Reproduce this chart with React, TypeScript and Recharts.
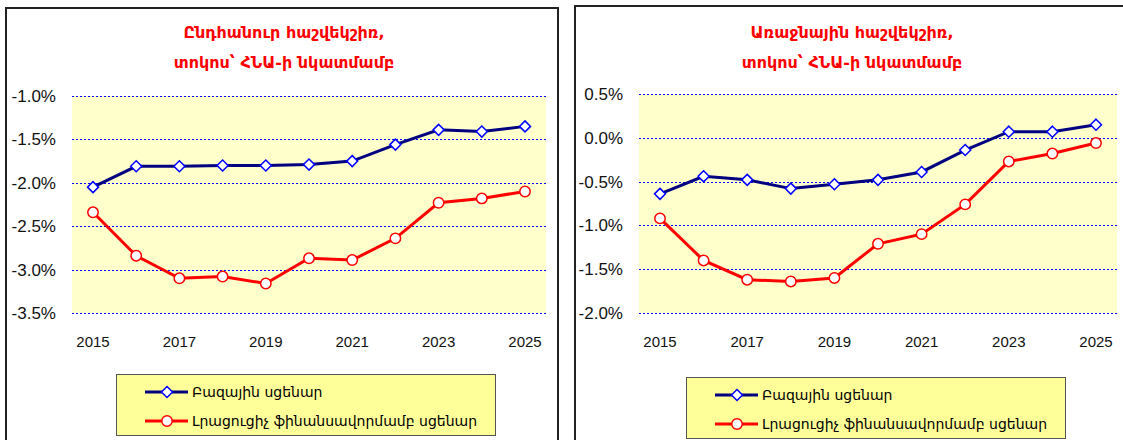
import { LineChart, Line, XAxis, YAxis, CartesianGrid, Legend } from "recharts";

const years = ["2015", "2016", "2017", "2018", "2019", "2020", "2021", "2022", "2023", "2024", "2025"];

// overall balance, % of GDP
const overallBase = [-2.05, -1.81, -1.81, -1.8, -1.8, -1.79, -1.75, -1.56, -1.39, -1.41, -1.35];
const overallExtra = [-2.34, -2.84, -3.1, -3.08, -3.16, -2.87, -2.89, -2.64, -2.23, -2.18, -2.1];
const overallTicks = [-1.0, -1.5, -2.0, -2.5, -3.0, -3.5];

// primary balance, % of GDP
const primaryBase = [-0.64, -0.44, -0.48, -0.58, -0.53, -0.48, -0.39, -0.14, 0.07, 0.07, 0.15];
const primaryExtra = [-0.92, -1.4, -1.62, -1.64, -1.6, -1.21, -1.1, -0.76, -0.27, -0.18, -0.06];
const primaryTicks = [0.5, 0.0, -0.5, -1.0, -1.5, -2.0];

const seriesNames = ["Բազային սցենար", "Լրացուցիչ ֆինանսավորմամբ սցենար"];
const overallTitle = ["Ընդհանուր հաշվեկշիռ,", "տոկոս՝ ՀՆԱ-ի նկատմամբ"];
const primaryTitle = ["Առաջնային հաշվեկշիռ,", "տոկոս՝ ՀՆԱ-ի նկատմամբ"];

const toRows = (base: number[], extra: number[]) =>
  years.map((year, i) => ({ year, base: base[i], extra: extra[i] }));

const Diamond = (props: any) => {
  const { cx, cy, index } = props;
  if (cx == null || cy == null) return null;
  const r = 5.5;
  return (
    <path
      key={`dm-${index}`}
      d={`M${cx},${cy - r}L${cx + r},${cy}L${cx},${cy + r}L${cx - r},${cy}Z`}
      fill="#fff"
      stroke="#0000ff"
      strokeWidth={1.5}
    />
  );
};

const Ring = (props: any) => {
  const { cx, cy, index } = props;
  if (cx == null || cy == null) return null;
  return <circle key={`rg-${index}`} cx={cx} cy={cy} r={5.2} fill="#fff" stroke="#ff0000" strokeWidth={1.5} />;
};

// crisp 1px dotted blue gridline
const GridLine = (p: any) => (
  <line
    key={`h-${p.index}`}
    x1={p.x1}
    x2={p.x2}
    y1={Math.round(p.y1) + 0.5}
    y2={Math.round(p.y2) + 0.5}
    stroke="#0000ff"
    strokeWidth={1}
    strokeDasharray="2 2"
  />
);

function LegendBox() {
  const row = (top: number, color: string, marker: "d" | "c", label: string) => (
    <div style={{ position: "absolute", left: 0, top: top - 11, height: 22, display: "flex", alignItems: "center" }}>
      <svg width={75} height={22} style={{ display: "block" }}>
        <line x1={28} y1={11} x2={71} y2={11} stroke={color} strokeWidth={3} />
        {marker === "d" ? (
          <path d="M50,5.5L55.5,11L50,16.5L44.5,11Z" fill="#fff" stroke="#0000ff" strokeWidth={1.5} />
        ) : (
          <circle cx={50} cy={11} r={5.2} fill="#fff" stroke="#ff0000" strokeWidth={1.5} />
        )}
      </svg>
      <span style={{ fontFamily: "DejaVu Sans", fontSize: 14, color: "#000", whiteSpace: "nowrap" }}>{label}</span>
    </div>
  );
  return (
    <div
      style={{
        position: "relative",
        width: 380,
        height: 62,
        boxSizing: "border-box",
        background: "#ffff99",
        border: "1.5px solid #555",
      }}
    >
      {row(17, "#000080", "d", seriesNames[0])}
      {row(46, "#ff0000", "c", seriesNames[1])}
    </div>
  );
}

interface PanelProps {
  x: number;
  rows: { year: string; base: number; extra: number }[];
  ticks: number[];
  marginLeft: number;
  marginRight: number;
  marginTop: number;
  legendLeft: number;
  legendTop: number;
}

function Panel({ x, rows, ticks, marginLeft, marginRight, marginTop, legendLeft, legendTop }: PanelProps) {
  const lo = Math.min(...ticks);
  const hi = Math.max(...ticks);
  return (
    <div style={{ position: "absolute", left: x, top: 0 }}>
      <LineChart
        width={560}
        height={440}
        data={rows}
        margin={{ top: marginTop, right: marginRight, left: marginLeft, bottom: 97 }}
      >
        <CartesianGrid vertical={false} fill="#ffffcc" horizontal={GridLine} />
        <XAxis
          dataKey="year"
          interval={1}
          padding={{ left: 21, right: 21 }}
          axisLine={false}
          tickLine={false}
          tickSize={6}
          tickMargin={17}
          height={30}
          tick={{ fontSize: 15, fill: "#111", fontFamily: "Liberation Sans" }}
        />
        <YAxis
          type="number"
          domain={[lo, hi]}
          ticks={ticks}
          interval={0}
          width={60}
          axisLine={false}
          tickLine={false}
          tickSize={6}
          tickMargin={10}
          tickFormatter={(v: number) => `${v.toFixed(1)}%`}
          tick={{ fontSize: 17, fill: "#111", fontFamily: "Liberation Sans" }}
        />
        <Line
          dataKey="base"
          name={seriesNames[0]}
          stroke="#000080"
          strokeWidth={3}
          dot={Diamond}
          isAnimationActive={false}
        />
        <Line
          dataKey="extra"
          name={seriesNames[1]}
          stroke="#ff0000"
          strokeWidth={3}
          dot={Ring}
          isAnimationActive={false}
        />
        <Legend
          layout="vertical"
          align="center"
          verticalAlign="middle"
          wrapperStyle={{ left: legendLeft, top: legendTop, width: 380 }}
          content={() => <LegendBox />}
        />
      </LineChart>
    </div>
  );
}

function Title({ lines, center }: { lines: string[]; center: number }) {
  return (
    <div
      style={{
        position: "absolute",
        left: center - 200,
        top: 18,
        width: 400,
        textAlign: "center",
        color: "#ff0000",
        fontFamily: "DejaVu Sans",
        fontWeight: "bold",
        fontSize: 16,
        lineHeight: "30px",
      }}
    >
      {lines.map((l) => (
        <div key={l}>{l}</div>
      ))}
    </div>
  );
}

export default function App() {
  return (
    <div style={{ position: "absolute", left: 0, top: 0, width: 1123, height: 440, overflow: "hidden", background: "#fff" }}>
      <div style={{ position: "absolute", left: 5, top: 7, width: 554, height: 460, border: "2px solid #222", boxSizing: "border-box" }} />
      <div style={{ position: "absolute", left: 574, top: 5, width: 600, height: 460, border: "2px solid #222", boxSizing: "border-box" }} />
      <Title lines={overallTitle} center={284} />
      <Title lines={primaryTitle} center={852} />
      <Panel
        x={0}
        rows={toRows(overallBase, overallExtra)}
        ticks={overallTicks}
        marginLeft={12}
        marginRight={14}
        marginTop={96}
        legendLeft={116}
        legendTop={374}
      />
      <Panel
        x={563}
        rows={toRows(primaryBase, primaryExtra)}
        ticks={primaryTicks}
        marginLeft={16}
        marginRight={6}
        marginTop={94}
        legendLeft={123}
        legendTop={377}
      />
    </div>
  );
}
